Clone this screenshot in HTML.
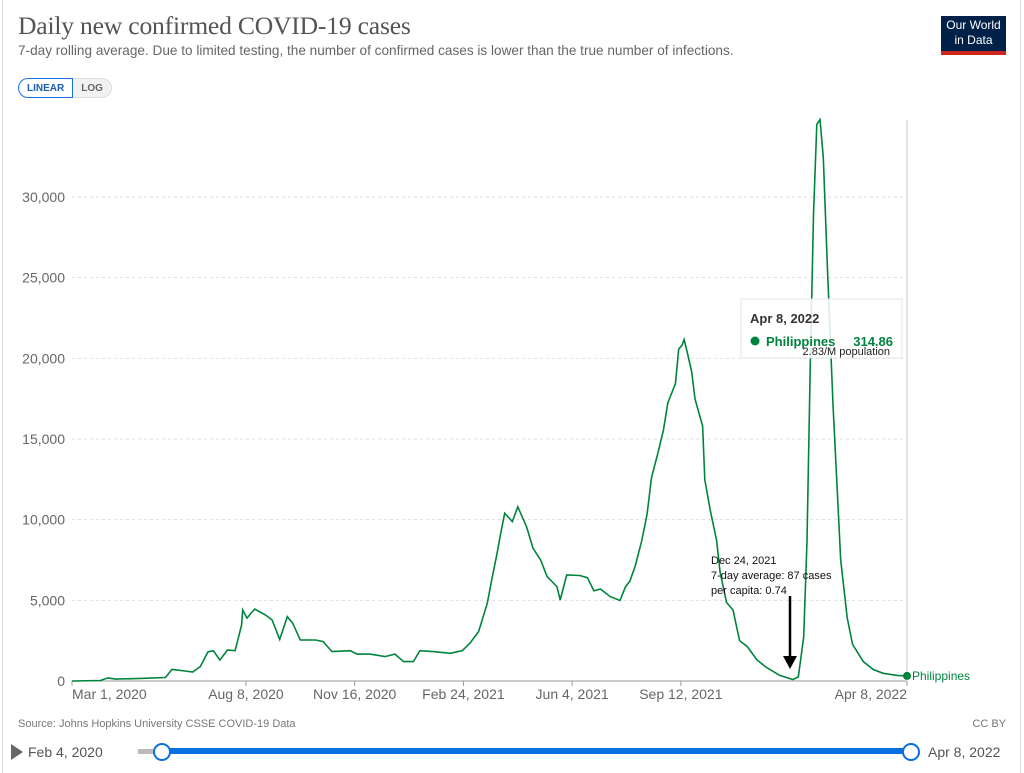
<!DOCTYPE html>
<html><head><meta charset="utf-8">
<style>
body{margin:0;width:1024px;height:773px;background:#fff;overflow:hidden;font-family:"Liberation Sans",sans-serif;position:relative}
.abs{position:absolute}
</style></head>
<body>
<div class="abs" style="left:2px;top:0;width:1px;height:773px;background:#ddd"></div>
<div class="abs" style="left:1020px;top:0;width:1px;height:773px;background:#ddd"></div>
<div class="abs" style="left:18px;top:11px;font-family:'Liberation Serif',serif;font-size:25.6px;color:#555;letter-spacing:-0.2px">Daily new confirmed COVID-19 cases</div>
<div class="abs" style="left:18px;top:43px;font-size:13.6px;color:#666">7-day rolling average. Due to limited testing, the number of confirmed cases is lower than the true number of infections.</div>
<div class="abs" style="left:941px;top:16px;width:65px;height:33px;background:#002147;border-bottom:4px solid #ce261e;color:#fff;font-size:12px;line-height:15px;text-align:center;padding-top:2px;box-sizing:content-box">Our World<br>in Data</div>
<div class="abs" style="left:18px;top:78px;height:20px;display:flex;font-size:10px;font-weight:bold">
 <div style="border:1px solid #1a73e8;color:#1a5fb4;border-radius:10px 0 0 10px;padding:0 8px;line-height:19px">LINEAR</div>
 <div style="border:1px solid #ddd;border-left:none;background:#f2f2f2;color:#666;border-radius:0 10px 10px 0;padding:0 8px;line-height:19px">LOG</div>
</div>
<svg class="abs" style="left:0;top:0" width="1024" height="773">
 <g id="grid"></g><g id="xaxis"></g>
 <path id="line" fill="none" stroke="#00843d" stroke-width="1.6"/>
 <circle id="enddot" r="4" fill="#00843d"/>
 <text id="endlabel" font-size="12" fill="#00843d">Philippines</text>
 <g font-family="Liberation Sans" font-size="11" fill="#111">
  <text x="711" y="564">Dec 24, 2021</text>
  <text x="711" y="579">7-day average: 87 cases</text>
  <text x="711" y="594">per capita: 0.74</text>
  <line x1="790" y1="596" x2="790" y2="658" stroke="#000" stroke-width="2.5"/>
  <polygon points="783,656 797,656 790,669" fill="#000"/>
 </g>
 <g>
  <rect x="741" y="299" width="161" height="59" fill="#fff" fill-opacity="0.85" stroke="#e6e6e6"/>
  <text x="750" y="323" font-size="13" font-weight="bold" fill="#333">Apr 8, 2022</text>
  <circle cx="755" cy="341" r="4.5" fill="#00843d"/>
  <text x="766" y="346" font-size="13" font-weight="bold" fill="#00843d">Philippines</text>
  <text x="893" y="346" font-size="13" font-weight="bold" fill="#00843d" text-anchor="end">314.86</text>
  <text x="890" y="355" font-size="11" fill="#222" text-anchor="end">2.83/M population</text>
 </g>
</svg>
<div class="abs" style="left:18px;top:718px;font-size:11px;color:#777">Source: Johns Hopkins University CSSE COVID-19 Data</div>
<div class="abs" style="left:970px;top:718px;width:36px;text-align:right;font-size:11px;color:#777">CC BY</div>
<div class="abs" style="left:11px;top:744px;width:0;height:0;border-left:12px solid #666;border-top:8px solid transparent;border-bottom:8px solid transparent"></div>
<div class="abs" style="left:28px;top:744px;font-size:14px;color:#555">Feb 4, 2020</div>
<div class="abs" style="left:138px;top:749px;width:24px;height:5px;background:#bbb"></div>
<div class="abs" style="left:162px;top:748px;width:748px;height:6px;background:#0a6fe0"></div>
<div class="abs" style="left:153px;top:743px;width:14px;height:14px;border:2px solid #0a6fe0;border-radius:50%;background:#fff"></div>
<div class="abs" style="left:902px;top:743px;width:14px;height:14px;border:2px solid #0a6fe0;border-radius:50%;background:#fff"></div>
<div class="abs" style="left:928px;top:744px;font-size:14px;color:#555">Apr 8, 2022</div>
<script>
const dayOffsets=[0,26,33,40,63,86,92,104,111,118,125,130,136,143,150,156,157,161,168,178,184,191,198,203,210,224,231,239,256,262,274,288,297,305,314,320,332,348,359,366,374,382,386,391,394,398,405,410,418,424,431,437,446,449,455,467,474,480,486,495,504,509,513,518,524,529,533,539,544,548,555,558,561,563,566,570,573,580,582,587,593,596,602,608,614,621,630,639,651,663,668,673,676,679,682,685,688,691,695,700,707,713,718,728,737,746,759,768];
const cases=[0,30,190,120,160,220,720,620,560,890,1800,1880,1300,1920,1880,3470,4400,3900,4460,4090,3780,2580,3990,3580,2540,2540,2440,1820,1880,1670,1670,1510,1670,1200,1200,1880,1820,1720,1880,2340,3060,4820,6260,7920,9050,10400,9880,10800,9570,8230,7500,6470,5850,5020,6570,6540,6400,5590,5700,5230,4990,5830,6180,7130,8680,10350,12600,14150,15570,17230,18430,20570,20800,21160,20330,19160,17480,15810,12480,10600,8680,6780,4870,4400,2500,2140,1300,830,350,90,250,2730,8680,19370,28900,34500,34800,32450,25320,17000,7500,3920,2260,1190,710,480,350,315];
const yTicks=[0,5000,10000,15000,20000,25000,30000];
const xTickDays=[0,160,260,360,460,560,768];
const xTickLabels=["Mar 1, 2020","Aug 8, 2020","Nov 16, 2020","Feb 24, 2021","Jun 4, 2021","Sep 12, 2021","Apr 8, 2022"];
const X0=72,X1=907,Y0=681,DMAX=768;
const xs=d=>X0+(X1-X0)*d/DMAX;
const ys=v=>Y0-v*(Y0-197)/30000;
const NS="http://www.w3.org/2000/svg";
const grid=document.getElementById('grid'),xa=document.getElementById('xaxis');
yTicks.forEach(t=>{
 const l=document.createElementNS(NS,'line');
 
 
 l.setAttribute('x1',X0);l.setAttribute('x2',X1);l.setAttribute('y1',ys(t));l.setAttribute('y2',ys(t));
 l.setAttribute('stroke',t===0?'#999':'#ddd');if(t!==0)l.setAttribute('stroke-dasharray','3,3');
 grid.appendChild(l);
 const tx=document.createElementNS(NS,'text');
 
 
 tx.setAttribute('x',65);tx.setAttribute('y',ys(t)+5);tx.setAttribute('text-anchor','end');
 tx.setAttribute('font-size','14');tx.setAttribute('fill','#666');
 tx.textContent=t.toLocaleString('en-US');grid.appendChild(tx);
});
const vl=document.createElementNS(NS,'line');


vl.setAttribute('x1',X1);vl.setAttribute('x2',X1);vl.setAttribute('y1',120);vl.setAttribute('y2',Y0);vl.setAttribute('stroke','#e4e4e4');vl.setAttribute('stroke-width','2');
grid.appendChild(vl);
xTickDays.forEach((d,i)=>{
 const l=document.createElementNS(NS,'line');
 
 
 l.setAttribute('x1',xs(d));l.setAttribute('x2',xs(d));l.setAttribute('y1',Y0);l.setAttribute('y2',Y0+5);l.setAttribute('stroke','#999');
 xa.appendChild(l);
 const tx=document.createElementNS(NS,'text');
 
 
 tx.setAttribute('x',i===0?X0:i===xTickDays.length-1?X1:xs(d));tx.setAttribute('y',699);
 tx.setAttribute('text-anchor',i===0?'start':i===xTickDays.length-1?'end':'middle');
 tx.setAttribute('font-size','14');tx.setAttribute('fill','#666');
 tx.textContent=xTickLabels[i];xa.appendChild(tx);
});
document.getElementById('line').setAttribute('d',dayOffsets.map((d,i)=>(i?'L':'M')+xs(d).toFixed(1)+','+ys(cases[i]).toFixed(1)).join(''));
const ld=dayOffsets[dayOffsets.length-1],lv=cases[cases.length-1];
const dot=document.getElementById('enddot');dot.setAttribute('cx',xs(ld));dot.setAttribute('cy',ys(lv));
const el=document.getElementById('endlabel');el.setAttribute('x',xs(ld)+5);el.setAttribute('y',ys(lv)+4);
</script>
</body></html>
